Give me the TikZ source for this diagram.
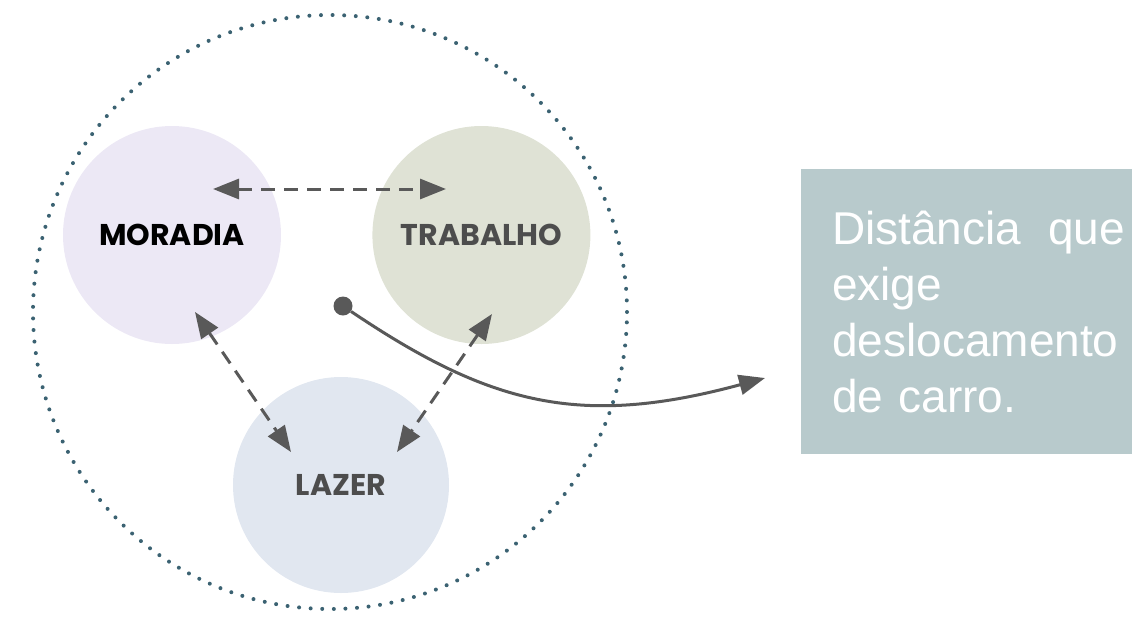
\documentclass[tikz,border=0pt]{standalone}
\usepackage{fontspec}
\setmainfont{Liberation Sans}
\newfontfamily\zonefont{Poppins}
\usetikzlibrary{arrows.meta, positioning}

\definecolor{lilac}{HTML}{ECE8F5}
\definecolor{sage}{HTML}{DFE2D5}
\definecolor{mist}{HTML}{E1E7F0}
\definecolor{slate}{HTML}{B8CACC}
\definecolor{inkgray}{HTML}{595959}
\definecolor{labelgray}{HTML}{4D4D4D}
\definecolor{ringteal}{HTML}{3B6272}

\begin{document}
\begin{tikzpicture}[x=1pt, y=-1pt,
    node distance=91pt,
    zone/.style={circle, minimum size=218pt, inner sep=0pt, text=labelgray,
                 font=\zonefont\bfseries\fontsize{30}{30}\selectfont},
    ring/.style={circle, minimum size=594pt, draw=ringteal, line width=4pt,
                 line cap=round, dash pattern=on 0pt off 11.6pt},
    link/.style={{Triangle[length=26pt,width=20pt]}-{Triangle[length=26pt,width=20pt]},
                 draw=inkgray, line width=3pt, dash pattern=on 14pt off 9pt},
    hubdot/.style={circle, fill=inkgray, minimum size=19pt, inner sep=0pt},
    card/.style={fill=slate, text=white, text width=293pt, inner xsep=31pt,
                 minimum height=285pt, align=left, font=\fontsize{46}{56}\selectfont}
  ]
    \useasboundingbox (0,0) rectangle (1132,630);

    % neighbourhood boundary
    \node[ring] (bairro) at (330,312) {};

    % the three activities
    \node[zone, fill=lilac, text=black] (moradia) at (172,235) {MORADIA};
    \node[zone, fill=sage, right=of moradia] (trabalho) {TRABALHO};
    \node[zone, fill=mist, minimum size=216pt] (lazer) at (341,485) {LAZER};

    \coordinate (mt) at (213,189);
    \coordinate (tm) at (446,189);
    \coordinate (ml) at (195,312);
    \coordinate (lm) at (291,452);
    \coordinate (tl) at (492,314);
    \coordinate (lt) at (397,452);

    \draw[link] (mt) -- (tm);
    \draw[link] (ml) -- (lm);
    \draw[link] (tl) -- (lt);

    % pointer out to the note
    \node[hubdot] (hub) at (343,306) {};
    \coordinate (tip) at (765,378);
    \draw[-{Triangle[length=26pt,width=20pt]}, draw=inkgray, line width=3pt]
      (hub) .. controls (490,405) and (580,428) .. (tip);

    \node[card, anchor=west] (nota) at (801,311.5)
      {Distância\hfill que\\exige\\deslocamento\\de carro.};
  \end{tikzpicture}
\end{document}
